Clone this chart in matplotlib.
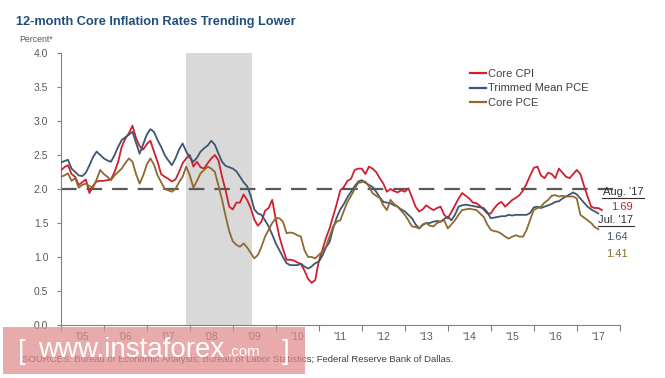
import numpy as np
import matplotlib
matplotlib.use("Agg")
import matplotlib.pyplot as plt
from matplotlib.lines import Line2D
from matplotlib.patches import Rectangle

plt.rcParams['font.family'] = ['Liberation Sans', 'DejaVu Sans']

# monthly 12-month rates, Jan 2005 onwards
core_cpi = [
    2.27, 2.32, 2.35, 2.22, 2.18, 2.06, 2.10, 2.14, 1.94, 2.05, 2.11, 2.12,
    2.12, 2.13, 2.14, 2.25, 2.40, 2.62, 2.74, 2.82, 2.93, 2.75, 2.63, 2.58,
    2.66, 2.71, 2.55, 2.40, 2.22, 2.18, 2.15, 2.11, 2.14, 2.25, 2.38, 2.45,
    2.50, 2.33, 2.40, 2.32, 2.30, 2.38, 2.45, 2.50, 2.42, 2.18, 1.98, 1.74,
    1.70, 1.80, 1.80, 1.92, 1.84, 1.72, 1.55, 1.46, 1.52, 1.68, 1.72, 1.84,
    1.55, 1.30, 1.12, 0.96, 0.96, 0.95, 0.92, 0.90, 0.80, 0.68, 0.62, 0.66,
    0.94, 1.10, 1.28, 1.42, 1.60, 1.78, 1.98, 2.03, 2.12, 2.15, 2.28, 2.30,
    2.30, 2.22, 2.33, 2.30, 2.25, 2.16, 2.08, 1.96, 2.00, 1.97, 1.95, 1.98,
    1.96, 2.01, 1.88, 1.74, 1.67, 1.70, 1.76, 1.72, 1.69, 1.72, 1.74, 1.62,
    1.57, 1.66, 1.76, 1.86, 1.94, 1.90, 1.86, 1.80, 1.79, 1.75, 1.70, 1.64,
    1.64, 1.72, 1.78, 1.81, 1.74, 1.79, 1.84, 1.87, 1.91, 1.98, 2.08, 2.20,
    2.31, 2.33, 2.20, 2.16, 2.24, 2.22, 2.16, 2.30, 2.24, 2.18, 2.16, 2.22,
    2.28, 2.22, 2.05, 1.89, 1.74, 1.72, 1.72, 1.69,
]
trimmed_pce = [
    2.39, 2.41, 2.43, 2.30, 2.25, 2.20, 2.19, 2.24, 2.35, 2.47, 2.55, 2.50,
    2.45, 2.42, 2.40, 2.50, 2.62, 2.72, 2.76, 2.80, 2.84, 2.68, 2.52, 2.66,
    2.80, 2.88, 2.84, 2.72, 2.62, 2.50, 2.42, 2.35, 2.45, 2.58, 2.67, 2.55,
    2.46, 2.40, 2.46, 2.55, 2.60, 2.64, 2.71, 2.65, 2.52, 2.40, 2.34, 2.32,
    2.30, 2.26, 2.18, 2.10, 2.04, 1.90, 1.70, 1.64, 1.62, 1.54, 1.45, 1.33,
    1.20, 1.10, 1.00, 0.91, 0.88, 0.88, 0.88, 0.90, 0.86, 0.83, 0.86, 0.91,
    0.93, 1.02, 1.14, 1.22, 1.42, 1.58, 1.70, 1.78, 1.88, 1.96, 2.04, 2.11,
    2.13, 2.09, 2.06, 2.03, 1.96, 1.88, 1.81, 1.80, 1.79, 1.76, 1.74, 1.70,
    1.67, 1.62, 1.57, 1.48, 1.42, 1.47, 1.50, 1.50, 1.52, 1.53, 1.52, 1.56,
    1.59, 1.54, 1.62, 1.74, 1.76, 1.77, 1.76, 1.75, 1.74, 1.73, 1.72, 1.66,
    1.57, 1.58, 1.59, 1.60, 1.60, 1.62, 1.61, 1.62, 1.62, 1.62, 1.62, 1.65,
    1.73, 1.74, 1.72, 1.74, 1.76, 1.78, 1.81, 1.82, 1.86, 1.89, 1.92, 1.95,
    1.92, 1.86, 1.80, 1.74, 1.70, 1.67, 1.64,
]
core_pce = [
    2.18, 2.20, 2.23, 2.12, 2.16, 2.02, 2.06, 2.08, 2.04, 2.02, 2.14, 2.28,
    2.22, 2.18, 2.13, 2.20, 2.25, 2.30, 2.38, 2.45, 2.40, 2.22, 2.08, 2.20,
    2.36, 2.45, 2.36, 2.20, 2.10, 2.00, 1.98, 1.96, 2.00, 2.10, 2.18, 2.33,
    2.20, 2.02, 2.12, 2.23, 2.28, 2.33, 2.30, 2.25, 2.05, 1.84, 1.60, 1.38,
    1.23, 1.18, 1.15, 1.20, 1.14, 1.06, 0.98, 1.03, 1.15, 1.30, 1.40, 1.50,
    1.57, 1.57, 1.52, 1.35, 1.36, 1.35, 1.32, 1.30, 1.10, 1.00, 1.00, 0.98,
    1.03, 1.08, 1.15, 1.30, 1.45, 1.52, 1.54, 1.68, 1.81, 1.90, 2.00, 2.09,
    2.10, 2.11, 2.04, 1.94, 1.90, 1.87, 1.76, 1.69, 1.84, 1.78, 1.74, 1.68,
    1.62, 1.54, 1.45, 1.44, 1.42, 1.48, 1.50, 1.46, 1.45, 1.50, 1.52, 1.54,
    1.42, 1.48, 1.54, 1.62, 1.69, 1.70, 1.71, 1.70, 1.69, 1.64, 1.59, 1.48,
    1.40, 1.38, 1.37, 1.34, 1.30, 1.27, 1.30, 1.32, 1.30, 1.30, 1.40, 1.55,
    1.69, 1.72, 1.74, 1.80, 1.84, 1.90, 1.91, 1.89, 1.90, 1.89, 1.89, 1.89,
    1.86, 1.62, 1.58, 1.54, 1.50, 1.44, 1.41,
]
start_year = 2005
recession = (2007.9, 2009.45)
target = 2.0
years = list(range(2005, 2018))
year_labels = ["'%02d" % (y % 100) for y in years]
yticks = [0.0, 0.5, 1.0, 1.5, 2.0, 2.5, 3.0, 3.5, 4.0]

c_red = '#D01F2E'
c_blue = '#3E5670'
c_brown = '#8C6B2F'
c_text = '#595959'

fig = plt.figure(figsize=(6.65, 3.78), dpi=100)
ax = fig.add_axes([60.8 / 665, 1 - 325 / 378, 559 / 665, 272 / 378])

x_cpi = start_year + np.arange(len(core_cpi)) / 12.0
x_pce = start_year + np.arange(len(core_pce)) / 12.0

ax.axvspan(recession[0], recession[1], color='#D9D9D9', zorder=0, lw=0)
ax.hlines(target, 2005, 2017.85, colors='#595959', linestyles=(0, (7, 4.5)),
          lw=1.6, zorder=1)
ax.plot(x_cpi, core_cpi, color=c_red, lw=1.3, label='Core CPI', zorder=3)
ax.plot(x_pce, trimmed_pce, color=c_blue, lw=1.3, label='Trimmed Mean PCE', zorder=3)
ax.plot(x_pce, core_pce, color=c_brown, lw=1.3, label='Core PCE', zorder=3)

ax.set_xlim(2005, 2018)
ax.set_ylim(0, 4)
ax.set_yticks(yticks)
ax.set_yticklabels(['%.1f' % v for v in yticks])
ax.set_xticks(years + [2018])
ax.set_xticklabels([])
ax.set_xticks([y + 0.5 for y in years], minor=True)
ax.set_xticklabels(year_labels, minor=True)
ax.tick_params(axis='x', which='major', length=4, color='#808080', direction='out')
ax.tick_params(axis='x', which='minor', length=0, labelsize=7.5, labelcolor=c_text, pad=5)
ax.tick_params(axis='y', length=3, color='#808080', labelsize=7.5, labelcolor=c_text, pad=6)
for s in ['top', 'right']:
    ax.spines[s].set_visible(False)
for s in ['left', 'bottom']:
    ax.spines[s].set_color('#808080')
    ax.spines[s].set_linewidth(0.8)

leg = ax.legend(loc='upper left', bbox_to_anchor=(470 / 665, 1 - 69 / 378),
                bbox_transform=fig.transFigure, frameon=False, fontsize=8,
                handlelength=1.4, handletextpad=0.2, labelspacing=0.4,
                borderpad=0, borderaxespad=0)
for t in leg.get_texts():
    t.set_color('#404040')
for h in leg.get_lines():
    h.set_linewidth(1.6)

fig.text(16 / 665, 1 - 22 / 378, '12-month Core Inflation Rates Trending Lower',
         fontsize=9.2, fontweight='bold', color='#1F4E79', va='center')
fig.text(19 / 665, 1 - 39 / 378, 'Percent*', fontsize=6.3, color=c_text, va='center')

# right side annotations
fig.text(623 / 665, 1 - 192 / 378, "Aug. '17", fontsize=8, color='#333333',
         ha='center', va='center')
fig.add_artist(Line2D([602 / 665, 644 / 665], [1 - 198 / 378] * 2, color='#333333', lw=0.8))
fig.text(622 / 665, 1 - 207 / 378, '1.69', fontsize=8, color=c_red, ha='center', va='center')
fig.text(616 / 665, 1 - 220 / 378, "Jul. '17", fontsize=8, color='#333333',
         ha='center', va='center')
fig.add_artist(Line2D([598 / 665, 634 / 665], [1 - 226 / 378] * 2, color='#333333', lw=0.8))
fig.text(617 / 665, 1 - 237 / 378, '1.64', fontsize=8, color=c_blue, ha='center', va='center')
fig.text(617 / 665, 1 - 254 / 378, '1.41', fontsize=8, color=c_brown, ha='center', va='center')

fig.text(22 / 665, 1 - 359 / 378,
         'SOURCES: Bureau of Economic Analysis; Bureau of Labor Statistics; Federal Reserve Bank of Dallas.',
         fontsize=6.8, color='#404040', va='center')

# watermark
fig.add_artist(Rectangle((3 / 665, 1 - 374 / 378), 302 / 665, 47 / 378,
                         transform=fig.transFigure, facecolor='#E08A8A', alpha=0.72,
                         edgecolor='none', zorder=10))
fig.text(18 / 665, 1 - 352 / 378, '[', fontsize=20, color='white', va='center', zorder=11)
fig.text(38 / 665, 1 - 350 / 378, 'www.instaforex', fontsize=20, color='white',
         va='center', zorder=11)
fig.text(228 / 665, 1 - 352 / 378, '.com', fontsize=11, color='white', va='center', zorder=11)
fig.text(282 / 665, 1 - 352 / 378, ']', fontsize=20, color='white', va='center', zorder=11)

fig.savefig('out.png', dpi=100)
